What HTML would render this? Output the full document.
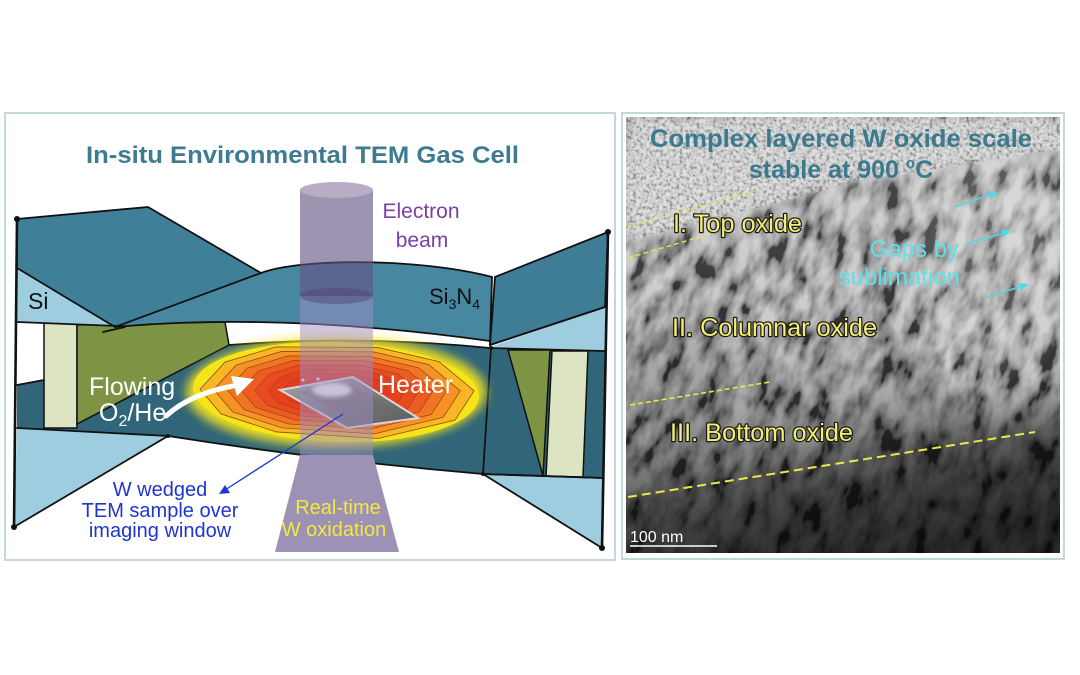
<!DOCTYPE html>
<html><head><meta charset="utf-8">
<style>
html,body{margin:0;padding:0;background:#fff;width:1080px;height:675px;overflow:hidden;}
svg{display:block;font-family:"Liberation Sans",Arial,sans-serif;}
</style></head><body>
<svg width="1080" height="675" viewBox="0 0 1080 675" xmlns="http://www.w3.org/2000/svg" overflow="hidden">
<defs>
  <filter id="glow" x="-30%" y="-60%" width="160%" height="220%"><feGaussianBlur stdDeviation="5"/></filter>
  <filter id="b2" x="-20%" y="-20%" width="140%" height="140%"><feGaussianBlur stdDeviation="2"/></filter>
  <filter id="b6" x="-10%" y="-10%" width="120%" height="120%"><feGaussianBlur stdDeviation="6"/></filter>
  <filter id="b20" x="-50%" y="-50%" width="200%" height="200%"><feGaussianBlur stdDeviation="20"/></filter>
  <filter id="noiseA" x="0" y="0" width="100%" height="100%">
    <feTurbulence type="fractalNoise" baseFrequency="0.065 0.03" numOctaves="3" seed="7"/>
    <feColorMatrix type="matrix" values="1 0 0 0 0  1 0 0 0 0  1 0 0 0 0  0 0 0 0 1"/>
    <feComponentTransfer>
      <feFuncR type="linear" slope="2.4" intercept="-0.7"/>
      <feFuncG type="linear" slope="2.4" intercept="-0.7"/>
      <feFuncB type="linear" slope="2.4" intercept="-0.7"/>
    </feComponentTransfer>
  </filter>
  <filter id="noiseB" x="0" y="0" width="100%" height="100%">
    <feTurbulence type="fractalNoise" baseFrequency="0.3" numOctaves="2" seed="3"/>
    <feColorMatrix type="matrix" values="1 0 0 0 0  1 0 0 0 0  1 0 0 0 0  0 0 0 0 1"/>
    <feComponentTransfer>
      <feFuncR type="linear" slope="2.5" intercept="-0.75"/>
      <feFuncG type="linear" slope="2.5" intercept="-0.75"/>
      <feFuncB type="linear" slope="2.5" intercept="-0.75"/>
    </feComponentTransfer>
  </filter>
  <pattern id="pn" patternUnits="userSpaceOnUse" x="500" y="0" width="700" height="700" patternTransform="rotate(20 843 335)">
    <rect x="0" y="0" width="700" height="700" filter="url(#noiseA)"/>
  </pattern>
  <clipPath id="tem"><rect x="626" y="117" width="434" height="436"/></clipPath>
  <clipPath id="topclip"><polygon points="626,117 1060,117 1060,150 960,165 900,175 850,183 800,197 740,212 680,228 626,242"/></clipPath>
  <linearGradient id="oxg" gradientUnits="userSpaceOnUse" x1="820" y1="150" x2="884" y2="553">
    <stop offset="0" stop-color="#909090"/>
    <stop offset="0.10" stop-color="#8a8a8a"/>
    <stop offset="0.37" stop-color="#818181"/>
    <stop offset="0.60" stop-color="#6c6c6c"/>
    <stop offset="0.70" stop-color="#555555"/>
    <stop offset="0.78" stop-color="#383838"/>
    <stop offset="0.86" stop-color="#292929"/>
    <stop offset="1" stop-color="#1c1c1c"/>
  </linearGradient>
  <linearGradient id="samp" x1="0" y1="0" x2="1" y2="1">
    <stop offset="0" stop-color="#a8a8a8"/>
    <stop offset="0.5" stop-color="#7a7a7a"/>
    <stop offset="1" stop-color="#5a5a5a"/>
  </linearGradient>
  <polygon id="oct" points="-136,2 -112,-26 -62,-43 40,-46 102,-34 138,-6 120,24 44,45 -58,42 -114,26"/>
</defs>

<rect width="1080" height="675" fill="#fff"/>

<!-- ================= LEFT PANEL ================= -->
<rect x="5" y="113" width="610" height="447" fill="#fff" stroke="#c3d7de" stroke-width="2"/>
<text x="86" y="163" font-size="24" font-weight="bold" fill="#3d7c90" textLength="433" lengthAdjust="spacingAndGlyphs">In-situ Environmental TEM Gas Cell</text>

<!-- dark middle region -->
<path d="M17,385 L229,345 Q360,335 490,348 L483,474 Q320,460 168,436 L17,428 Z" fill="#30657a"/>
<path d="M490,348 L605,351 L603,478 L483,474 Z" fill="#30657a"/>
<!-- left bottom triangle -->
<path d="M17,428 L168,436 L14,527 Z" fill="#9fcde0"/>
<!-- cream & olive left -->
<rect x="44" y="323" width="33" height="105" fill="#dde4c1" stroke="#111" stroke-width="1.5"/>
<path d="M77,325 L225,322 L229,345 L77,424 Z" fill="#7c9443" stroke="#111" stroke-width="1.5"/>
<!-- right olive & cream -->
<path d="M508,350 L550,350 L543,476 Z" fill="#7c9443" stroke="#111" stroke-width="1.5"/>
<path d="M552,351 L588,351 L583,477 L546,477 Z" fill="#dde4c1" stroke="#111" stroke-width="1.5"/>
<!-- right lower triangle -->
<path d="M483,474 L603,478 L602,548 Z" fill="#9fcde0" stroke="#111" stroke-width="1.8"/>
<!-- right Si triangle -->
<path d="M490,347 L605,307 L605,351 Z" fill="#9fcde0"/>
<!-- top right polygon -->
<path d="M495,277 L608,232 L605,307 L490,345 Z" fill="#3e7d95" stroke="#111" stroke-width="1.8"/>
<!-- top-left polygon -->
<path d="M17,219 L148,207 L261,273 L115,327 L17,268 Z" fill="#3f7f98"/>
<path d="M17,268 L116,327 L17,322 Z" fill="#9fcde0"/>
<!-- Si3N4 band -->
<path d="M115,327 L261,273 C300,258 420,258 492,277 L490,341 Q280,312 115,327 Z" fill="#4788a0"/>

<!-- outlines -->
<g stroke="#111" stroke-width="1.8" fill="none" stroke-linecap="round" stroke-linejoin="round">
  <path d="M17,219 L148,207 L261,273"/>
  <path d="M17,268 L115,327 L261,273"/>
  <path d="M17,322 L117,326"/>
  <path d="M103,332 L125,327"/>
  <path d="M261,273 C300,258 420,258 492,277"/>
  <path d="M492,277 L490,345"/>
  <path d="M115,327 Q280,312 490,341"/>
  <path d="M490,345 L605,307"/>
  <path d="M490,348 L605,351"/>
  <path d="M17,385 L44,380"/>
  <path d="M229,345 Q360,335 490,348"/>
  <path d="M491,348 L483,474"/>
  <path d="M17,428 L168,436 Q320,460 483,474 L603,478"/>
  <path d="M168,436 L14,527"/>
  <path d="M17,219 L14,527" stroke-width="2.6"/>
  <path d="M608,232 L602,548" stroke-width="2.6"/>
</g>
<g fill="#111">
  <circle cx="17" cy="219" r="3"/>
  <circle cx="14" cy="527" r="3"/>
  <circle cx="608" cy="232" r="3"/>
  <circle cx="602" cy="548" r="3"/>
  <circle cx="168" cy="436" r="2"/>
  <circle cx="491" cy="348" r="2"/>
  <circle cx="483" cy="474" r="2"/>
</g>

<!-- heater -->
<ellipse cx="336" cy="392" rx="150" ry="55" fill="#f6e41c" filter="url(#glow)" opacity="0.9"/>
<g transform="translate(336,392) rotate(2)">
  <ellipse cx="0" cy="0" rx="143" ry="50" fill="#f5e418"/>
  <g stroke="#6a3210" stroke-width="0.8" stroke-opacity="0.8">
    <use href="#oct" fill="#f8b526" vector-effect="non-scaling-stroke"/>
    <use href="#oct" transform="scale(0.9)" fill="#f69225" vector-effect="non-scaling-stroke"/>
    <use href="#oct" transform="scale(0.8)" fill="#f07424" vector-effect="non-scaling-stroke"/>
    <use href="#oct" transform="scale(0.7)" fill="#ec5b22" vector-effect="non-scaling-stroke"/>
    <use href="#oct" transform="scale(0.6)" fill="#e84b20" vector-effect="non-scaling-stroke"/>
    <use href="#oct" transform="scale(0.5)" fill="#e6411e" vector-effect="non-scaling-stroke"/>
    <use href="#oct" transform="scale(0.4)" fill="#e43a1d" vector-effect="non-scaling-stroke"/>
    <use href="#oct" transform="scale(0.3)" fill="#e2351c" vector-effect="non-scaling-stroke"/>
  </g>
</g>
<!-- TEM sample -->
<polygon points="280,390 353,377 418,418 347,428" fill="url(#samp)" stroke="#d8d8d8" stroke-width="2"/>
<polygon points="300,392 350,383 398,414 352,421" fill="#6c6c6c" opacity="0.5"/>
<ellipse cx="332" cy="390" rx="20" ry="7" fill="#f6f6f6" filter="url(#b2)"/>
<circle cx="303" cy="380" r="1.5" fill="#eee"/>
<circle cx="318" cy="379" r="1.5" fill="#eee"/>

<!-- electron beam -->
<rect x="300" y="190" width="73" height="106" fill="rgba(100,80,130,0.62)"/>
<rect x="300" y="296" width="73" height="159" fill="rgba(160,140,195,0.5)"/>
<ellipse cx="336.5" cy="296" rx="36.5" ry="8" fill="rgba(80,65,115,0.45)"/>
<ellipse cx="336.5" cy="190" rx="36.5" ry="8" fill="#b7adc5"/>
<path d="M300,455 L373,455 L399,552 L275,552 Z" fill="#9d91b6"/>

<!-- labels left -->
<text x="421" y="218" font-size="21" fill="#7b3fa3" text-anchor="middle">Electron</text>
<text x="422" y="247" font-size="21" fill="#7b3fa3" text-anchor="middle">beam</text>
<text x="28" y="309" font-size="23" fill="#111">Si</text>
<text x="429" y="304" font-size="22" fill="#111">Si<tspan font-size="14" dy="5">3</tspan><tspan dy="-5">N</tspan><tspan font-size="14" dy="5">4</tspan></text>
<text x="378" y="393" font-size="25" fill="#fff">Heater</text>
<text x="89" y="395" font-size="25" fill="#fff">Flowing</text>
<text x="99" y="421" font-size="25" fill="#fff">O<tspan font-size="16" dy="5">2</tspan><tspan dy="-5">/He</tspan></text>
<!-- white curved arrow -->
<path d="M166,416 Q190,394 233,386" stroke="#fff" stroke-width="5" fill="none" stroke-linecap="round"/>
<polygon points="254,379 231,376 237,396" fill="#fff"/>
<!-- blue annotation arrow -->
<line x1="343" y1="414" x2="225" y2="490" stroke="#2035d0" stroke-width="1.3"/>
<polygon points="219,494 230,493 225,485" fill="#2035d0"/>
<g font-size="20" fill="#2035d0" text-anchor="middle">
  <text x="160" y="496">W wedged</text>
  <text x="160" y="517">TEM sample over</text>
  <text x="160" y="537">imaging window</text>
</g>
<g font-size="20" fill="#f2ea3a" text-anchor="middle">
  <text x="338" y="514">Real-time</text>
  <text x="334" y="536">W oxidation</text>
</g>

<!-- ================= RIGHT PANEL ================= -->
<rect x="622" y="113" width="442" height="446" fill="#fff" stroke="#c3d7de" stroke-width="2"/>
<g clip-path="url(#tem)" style="isolation:isolate">
  <rect x="626" y="117" width="434" height="436" fill="url(#oxg)"/>
  <ellipse cx="1000" cy="285" rx="80" ry="120" fill="#fff" opacity="0.2" filter="url(#b20)"/>
  <ellipse cx="680" cy="380" rx="60" ry="80" fill="#000" opacity="0.12" filter="url(#b20)"/>
  <rect x="626" y="117" width="434" height="436" fill="url(#pn)" style="mix-blend-mode:overlay" opacity="0.6"/>
  <polygon points="626,117 1060,117 1060,150 960,165 900,175 850,183 800,197 740,212 680,228 626,244" fill="#d6d6d6" filter="url(#b6)"/>
  <g clip-path="url(#topclip)">
    <rect x="626" y="117" width="434" height="130" filter="url(#noiseB)" style="mix-blend-mode:overlay" opacity="0.3"/>
  </g>
</g>
<text x="650" y="147" font-size="25" font-weight="bold" fill="#3b7a8d" textLength="382" lengthAdjust="spacingAndGlyphs">Complex layered W oxide scale</text>
<text x="841" y="178" font-size="25" font-weight="bold" fill="#3b7a8d" text-anchor="middle">stable at 900 <tspan font-size="15" dy="-10">o</tspan><tspan dy="10">C</tspan></text>

<!-- yellow dashed lines -->
<g stroke="#e8e84a" fill="none">
  <line x1="628" y1="227" x2="758" y2="190" stroke-width="1.2" stroke-dasharray="3 2"/>
  <line x1="628" y1="258" x2="710" y2="234" stroke-width="1.4" stroke-dasharray="5 3"/>
  <line x1="630" y1="405" x2="770" y2="382" stroke-width="1.6" stroke-dasharray="5 3"/>
  <line x1="628" y1="497" x2="1035" y2="432" stroke-width="2" stroke-dasharray="9 5"/>
</g>
<g font-size="25" fill="#f4ef72" stroke="#1a1a1a" stroke-width="2.5" paint-order="stroke" stroke-linejoin="round">
  <text x="673" y="232" textLength="129" lengthAdjust="spacingAndGlyphs">I. Top oxide</text>
  <text x="672" y="336" textLength="205" lengthAdjust="spacingAndGlyphs">II. Columnar oxide</text>
  <text x="670" y="441" textLength="183" lengthAdjust="spacingAndGlyphs">III. Bottom oxide</text>
</g>
<g font-size="24" fill="#5ee2ea" text-anchor="end">
  <text x="959" y="257">Gaps by</text>
  <text x="960" y="285">sublimation</text>
</g>
<g stroke="#4fd8e6" stroke-width="1.6" fill="#4fd8e6">
  <line x1="955" y1="207" x2="992" y2="194"/>
  <polygon points="998,192 988,191 991,199" stroke="none"/>
  <line x1="968" y1="243" x2="1005" y2="233"/>
  <polygon points="1011,231 1001,229 1003,237" stroke="none"/>
  <line x1="985" y1="298" x2="1022" y2="286"/>
  <polygon points="1028,284 1018,283 1021,291" stroke="none"/>
</g>
<text x="630" y="542" font-size="16" fill="#fff">100 nm</text>
<line x1="630" y1="546" x2="717" y2="546" stroke="#fff" stroke-width="1.5"/>
</svg>
</body></html>
